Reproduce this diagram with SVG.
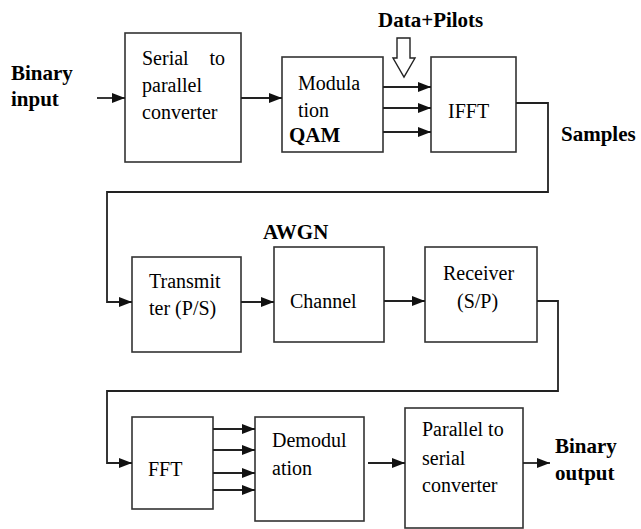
<svg xmlns="http://www.w3.org/2000/svg" width="641" height="529" viewBox="0 0 641 529">
<style>
.box{fill:#fff;stroke:#333;stroke-width:1.6}
.c{fill:none;stroke:#222;stroke-width:1.8}
</style>
<defs>
<marker id="ah" markerUnits="userSpaceOnUse" markerWidth="13" markerHeight="11" refX="13" refY="5" orient="auto">
<path d="M0,0 L13,5 L0,10 z" fill="#111"/>
</marker>
</defs>
<rect width="641" height="529" fill="#fff"/>

<g id="labels">
<text x="11" y="80" style="font-family:'Liberation Serif',serif;font-size:21px;font-weight:bold">Binary</text>
<text x="11" y="106" style="font-family:'Liberation Serif',serif;font-size:21px;font-weight:bold">input</text>
<text x="378" y="27" style="font-family:'Liberation Serif',serif;font-size:21px;font-weight:bold">Data+Pilots</text>
<text x="561" y="141" style="font-family:'Liberation Serif',serif;font-size:21px;font-weight:bold">Samples</text>
<text x="263" y="239" style="font-family:'Liberation Serif',serif;font-size:21px;font-weight:bold">AWGN</text>
<text x="555" y="453" style="font-family:'Liberation Serif',serif;font-size:21px;font-weight:bold">Binary</text>
<text x="555" y="480" style="font-family:'Liberation Serif',serif;font-size:21px;font-weight:bold">output</text>
</g>

<g id="s2p">
<rect class="box" x="125" y="33" width="116" height="129"/>
<text x="142" y="65" style="font-family:'Liberation Serif',serif;font-size:20px">Serial</text>
<text x="225" y="65" text-anchor="end" style="font-family:'Liberation Serif',serif;font-size:20px">to</text>
<text x="142" y="92" style="font-family:'Liberation Serif',serif;font-size:20px">parallel</text>
<text x="142" y="119" style="font-family:'Liberation Serif',serif;font-size:20px">converter</text>
</g>

<g id="mod">
<rect class="box" x="282" y="57" width="101" height="95"/>
<text x="298" y="90" style="font-family:'Liberation Serif',serif;font-size:20px">Modula</text>
<text x="298" y="117" style="font-family:'Liberation Serif',serif;font-size:20px">tion</text>
<text x="289" y="142" style="font-family:'Liberation Serif',serif;font-size:21px;font-weight:bold">QAM</text>
</g>

<g id="ifft">
<rect class="box" x="431" y="57" width="85" height="95"/>
<text x="448" y="118" style="font-family:'Liberation Serif',serif;font-size:20px">IFFT</text>
</g>

<g id="tx">
<rect class="box" x="132" y="257" width="109" height="95"/>
<text x="149" y="288" style="font-family:'Liberation Serif',serif;font-size:20px">Transmit</text>
<text x="149" y="315" style="font-family:'Liberation Serif',serif;font-size:20px">ter (P/S)</text>
</g>

<g id="channel">
<rect class="box" x="274" y="247" width="110" height="95"/>
<text x="290" y="308" style="font-family:'Liberation Serif',serif;font-size:20px">Channel</text>
</g>

<g id="rx">
<rect class="box" x="425" y="247" width="112" height="95"/>
<text x="443" y="280" style="font-family:'Liberation Serif',serif;font-size:20px">Receiver</text>
<text x="457" y="308" style="font-family:'Liberation Serif',serif;font-size:20px">(S/P)</text>
</g>

<g id="fft">
<rect class="box" x="132" y="417" width="81" height="92"/>
<text x="148" y="476" style="font-family:'Liberation Serif',serif;font-size:20px">FFT</text>
</g>

<g id="demod">
<rect class="box" x="255" y="417" width="109" height="104"/>
<text x="272" y="447" style="font-family:'Liberation Serif',serif;font-size:20px">Demodul</text>
<text x="272" y="475" style="font-family:'Liberation Serif',serif;font-size:20px">ation</text>
</g>

<g id="p2s">
<rect class="box" x="405" y="408" width="118" height="120"/>
<text x="422" y="436" style="font-family:'Liberation Serif',serif;font-size:20px">Parallel to</text>
<text x="422" y="465" style="font-family:'Liberation Serif',serif;font-size:20px">serial</text>
<text x="422" y="492" style="font-family:'Liberation Serif',serif;font-size:20px">converter</text>
</g>

<g id="connectors">
<line class="c" x1="97" y1="98" x2="125" y2="98" marker-end="url(#ah)"/>
<line class="c" x1="241" y1="98" x2="282" y2="98" marker-end="url(#ah)"/>
<line class="c" x1="383" y1="87" x2="431" y2="87" marker-end="url(#ah)"/>
<line class="c" x1="383" y1="108" x2="431" y2="108" marker-end="url(#ah)"/>
<line class="c" x1="383" y1="132" x2="431" y2="132" marker-end="url(#ah)"/>
<path d="M397,38 L410,38 L410,58 L415,58 L404,77 L393,58 L397,58 Z" fill="#fff" stroke="#222" stroke-width="1.4"/>
<polyline class="c" points="516,103 548,103 548,192 107,192 107,302 132,302" marker-end="url(#ah)"/>
<line class="c" x1="241" y1="302" x2="274" y2="302" marker-end="url(#ah)"/>
<line class="c" x1="384" y1="301" x2="425" y2="301" marker-end="url(#ah)"/>
<polyline class="c" points="537,301 558,301 558,391 107,391 107,463 132,463" marker-end="url(#ah)"/>
<line class="c" x1="213" y1="429" x2="255" y2="429" marker-end="url(#ah)"/>
<line class="c" x1="213" y1="450" x2="255" y2="450" marker-end="url(#ah)"/>
<line class="c" x1="213" y1="473" x2="255" y2="473" marker-end="url(#ah)"/>
<line class="c" x1="213" y1="490" x2="255" y2="490" marker-end="url(#ah)"/>
<line class="c" x1="368" y1="463" x2="405" y2="463" marker-end="url(#ah)"/>
<line class="c" x1="523" y1="463" x2="550" y2="463" marker-end="url(#ah)"/>
</g>
</svg>
